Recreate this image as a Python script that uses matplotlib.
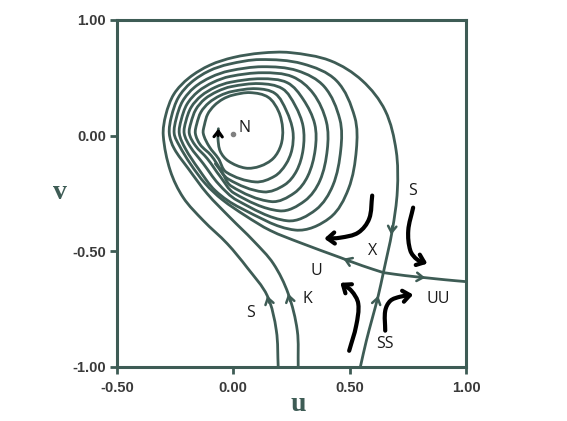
import numpy as np
import matplotlib
matplotlib.use("Agg")
import matplotlib.pyplot as plt
from matplotlib.path import Path
from matplotlib.patches import PathPatch, FancyArrowPatch

TEAL = '#3e5c55'

# axis ticks (the scanned figure labels its top tick "1.00")
x_ticks = [-0.5, 0.0, 0.5, 1.0]
x_tick_labels = ['-0.50', '0.00', '0.50', '1.00']
y_ticks = [0.5, 0.0, -0.5, -1.0]
y_tick_labels = ['1.00', '0.00', '-0.50', '-1.00']

# focus N
node_n = (0.0, 0.009)

# stable manifold, branch from the bottom that wraps over the spiral into X
s_curve = [(0.193, -1.0), (0.185, -0.843), (0.146, -0.692), (0.060, -0.571),
           (-0.026, -0.467), (-0.129, -0.367), (-0.215, -0.268), (-0.271, -0.151),
           (-0.301, 0.0), (-0.290, 0.090), (-0.255, 0.180), (-0.190, 0.250),
           (-0.100, 0.305), (0.0, 0.338), (0.120, 0.357), (0.245, 0.359),
           (0.417, 0.324), (0.554, 0.238), (0.653, 0.108), (0.700, -0.065),
           (0.705, -0.238), (0.683, -0.411), (0.645, -0.592)]
# stable manifold, lower branch SS
ss_curve = [(0.546, -1.0), (0.572, -0.886), (0.597, -0.791), (0.623, -0.692),
            (0.645, -0.592)]
# unstable manifold, right branch UU
uu_curve = [(0.645, -0.592), (0.739, -0.605), (0.825, -0.614), (0.911, -0.623),
            (1.0, -0.631)]

# spiral turns around N, outer to inner
loop1 = [(-0.275, 0.009), (-0.266, 0.082), (-0.236, 0.165), (-0.181, 0.230),
         (-0.104, 0.280), (-0.019, 0.309), (0.116, 0.329), (0.297, 0.311),
         (0.443, 0.238), (0.522, 0.080), (0.529, -0.060), (0.495, -0.230),
         (0.415, -0.355), (0.266, -0.408), (0.030, -0.312)]
loop2 = [(-0.254, 0.009), (-0.245, 0.075), (-0.218, 0.149), (-0.167, 0.209),
         (-0.096, 0.253), (-0.017, 0.280), (0.125, 0.298), (0.275, 0.281),
         (0.391, 0.212), (0.458, 0.070), (0.462, -0.060), (0.428, -0.215),
         (0.355, -0.320), (0.232, -0.368), (0.017, -0.280)]
loop3 = [(-0.232, 0.009), (-0.224, 0.068), (-0.199, 0.136), (-0.152, 0.190),
         (-0.086, 0.231), (-0.014, 0.256), (0.125, 0.272), (0.254, 0.255),
         (0.344, 0.182), (0.400, 0.060), (0.404, -0.060), (0.372, -0.195),
         (0.307, -0.282), (0.198, -0.325), (0.004, -0.249)]
loop4 = [(-0.211, 0.009), (-0.204, 0.062), (-0.181, 0.123), (-0.138, 0.172),
         (-0.078, 0.209), (-0.012, 0.231), (0.120, 0.246), (0.232, 0.229),
         (0.301, 0.156), (0.350, 0.050), (0.352, -0.060), (0.320, -0.175),
         (0.262, -0.248), (0.163, -0.285), (-0.009, -0.218)]
loop5 = [(-0.189, 0.009), (-0.182, 0.056), (-0.161, 0.113), (-0.123, 0.158),
         (-0.069, 0.191), (-0.009, 0.212), (0.112, 0.225), (0.211, 0.203),
         (0.266, 0.130), (0.300, 0.040), (0.300, -0.060), (0.272, -0.152),
         (0.220, -0.213), (0.129, -0.243), (-0.021, -0.188)]
loop6 = [(-0.163, 0.009), (-0.157, 0.051), (-0.139, 0.102), (-0.105, 0.142),
         (-0.057, 0.173), (-0.005, 0.191), (0.099, 0.203), (0.180, 0.182),
         (0.228, 0.108), (0.256, 0.020), (0.252, -0.060), (0.225, -0.125),
         (0.178, -0.175), (0.095, -0.200), (-0.030, -0.158)]
loop7 = [(-0.129, 0.009), (-0.124, 0.047), (-0.110, 0.093), (-0.082, 0.130),
         (-0.045, 0.158), (-0.003, 0.175), (0.073, 0.186), (0.150, 0.166),
         (0.195, 0.104), (0.212, 0.030), (0.205, -0.040), (0.172, -0.098),
         (0.115, -0.132), (0.052, -0.140), (-0.021, -0.110)]

# pieces joining one turn to the next on the lower left
trans1 = [(-0.077, -0.238), (-0.150, -0.143), (-0.206, -0.056)]
trans2 = [(-0.064, -0.208), (-0.129, -0.121), (-0.185, -0.048)]
trans3 = [(-0.056, -0.177), (-0.112, -0.099), (-0.163, -0.043)]
trans4 = [(-0.052, -0.151), (-0.095, -0.086), (-0.142, -0.039)]
trans6 = [(-0.064, -0.099), (-0.103, -0.048)]
k_end = [(-0.077, -0.121)]
u_tail = [(-0.056, -0.068), (-0.066, -0.010), (-0.064, 0.030)]

k_entry = [(0.279, -1.0), (0.275, -0.843), (0.236, -0.683), (0.172, -0.553),
           (0.086, -0.454), (-0.013, -0.355), (-0.112, -0.251), (-0.193, -0.143),
           (-0.254, -0.056)]
u_entry = [(0.645, -0.592), (0.554, -0.562), (0.460, -0.527), (0.288, -0.463),
           (0.159, -0.410), (0.052, -0.346), (-0.047, -0.277), (-0.120, -0.208),
           (-0.185, -0.121), (-0.232, -0.043)]

k_curve = k_entry + loop1 + trans1 + loop3 + trans3 + loop5 + k_end
u_curve = u_entry + loop2 + trans2 + loop4 + trans4 + loop6 + trans6 + loop7 + u_tail

# small direction arrows on the trajectories (tail -> tip)
teal_arrow_tails = [(0.154, -0.722), (0.244, -0.715), (0.683, -0.392),
                    (0.618, -0.712), (0.500, -0.543), (0.795, -0.611)]
teal_arrow_tips = [(0.146, -0.692), (0.236, -0.683), (0.679, -0.428),
                   (0.623, -0.692), (0.473, -0.532), (0.825, -0.614)]

# hand drawn black flow arrows around the saddle
black_arrow1 = [(0.597, -0.259), (0.584, -0.359), (0.537, -0.419), (0.460, -0.441), (0.391, -0.445)]
black_arrow2 = [(0.773, -0.311), (0.752, -0.410), (0.761, -0.497), (0.791, -0.536), (0.834, -0.553)]
black_arrow3 = [(0.498, -0.930), (0.528, -0.822), (0.537, -0.726), (0.507, -0.670), (0.460, -0.636)]
black_arrow4 = [(0.653, -0.843), (0.653, -0.757), (0.675, -0.714), (0.718, -0.696), (0.773, -0.687)]

# text labels
label_text = ['N', 'S', 'X', 'U', 'S', 'K', 'UU', 'SS']
label_pos = [(0.047, 0.035), (0.769, -0.238), (0.597, -0.497), (0.357, -0.584),
             (0.073, -0.765), (0.318, -0.705), (0.880, -0.705), (0.653, -0.899)]


def smooth_path(pts):
    # smooth curve through the points as cubic Bezier segments,
    # tangent length scaled by each segment so uneven spacing does not kink
    p = np.asarray(pts, float)
    n = len(p)
    tang = np.zeros_like(p)
    for i in range(n):
        a = p[max(i - 1, 0)]
        b = p[min(i + 1, n - 1)]
        d = b - a
        tang[i] = d / (np.hypot(*d) or 1.0)
    verts = [p[0]]
    codes = [Path.MOVETO]
    for i in range(n - 1):
        seg = np.hypot(*(p[i + 1] - p[i]))
        verts += [p[i] + tang[i] * seg / 3, p[i + 1] - tang[i + 1] * seg / 3, p[i + 1]]
        codes += [Path.CURVE4] * 3
    return Path(verts, codes)


fig = plt.figure(figsize=(5.67, 4.21), dpi=100)
ax = fig.add_axes([0.2063, 0.1283, 0.6155, 0.8242])
ax.set_xlim(-0.5, 1.0)
ax.set_ylim(-1.0, 0.5)

for curve in [s_curve, ss_curve, uu_curve, k_curve, u_curve]:
    ax.add_patch(PathPatch(smooth_path(curve), fill=False, edgecolor=TEAL,
                           lw=2.0, capstyle='round', joinstyle='round'))

for tail, tip in zip(teal_arrow_tails, teal_arrow_tips):
    ax.annotate('', xy=tip, xytext=tail,
                arrowprops=dict(arrowstyle='->,head_length=0.45,head_width=0.3',
                                color=TEAL, lw=1.8, shrinkA=0, shrinkB=0))

for arr in [black_arrow1, black_arrow2, black_arrow3, black_arrow4]:
    ax.add_patch(FancyArrowPatch(path=smooth_path(arr),
                                 arrowstyle='->,head_length=5,head_width=4',
                                 color='black', lw=3.0, shrinkA=0, shrinkB=0))

# arrow head where the innermost turn ends near N
ax.annotate('', xy=u_tail[-1], xytext=(-0.065, 0.0),
            arrowprops=dict(arrowstyle='->,head_length=0.4,head_width=0.3',
                            color='black', lw=2.2, shrinkA=0, shrinkB=0))
ax.plot(*node_n, 'o', color='#808080', ms=3)

for txt, (x, y) in zip(label_text, label_pos):
    ax.text(x, y, txt, fontsize=11.5, family='Open Sans', color='#1a1a1a',
            ha='center', va='center')

ax.set_xticks(x_ticks)
ax.set_xticklabels(x_tick_labels)
ax.set_yticks(y_ticks)
ax.set_yticklabels(y_tick_labels)
for lab in ax.get_xticklabels() + ax.get_yticklabels():
    lab.set_fontfamily('Liberation Sans')
    lab.set_fontweight('bold')
    lab.set_fontsize(10.5)
    lab.set_color('#3a3a3a')
ax.tick_params(direction='out', length=5, width=2, color=TEAL, pad=3)
ax.tick_params(axis='x', pad=5)
for sp in ax.spines.values():
    sp.set_color(TEAL)
    sp.set_linewidth(2.2)

ax.set_xlabel('u', fontsize=20, family='Liberation Serif', fontweight='bold', color=TEAL)
ax.set_ylabel('v', fontsize=20, family='Liberation Serif', fontweight='bold', color=TEAL,
              rotation=0)
ax.xaxis.set_label_coords(0.52, -0.107)
ax.yaxis.set_label_coords(-0.163, 0.504)
ax.xaxis.label.set_va('center')
ax.yaxis.label.set_va('center')

fig.savefig('out.png', dpi=100)
